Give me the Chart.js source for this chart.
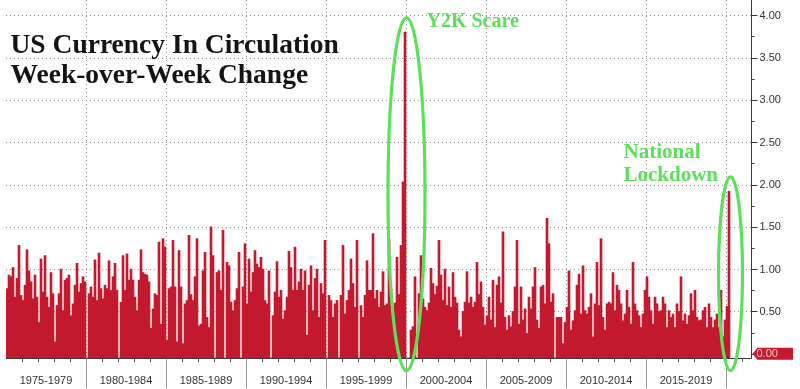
<!DOCTYPE html>
<html><head><meta charset="utf-8">
<script src="https://cdn.jsdelivr.net/npm/chart.js@4.4.1/dist/chart.umd.min.js"></script>
<style>html,body{margin:0;padding:0;background:#fff;}#wrap{width:800px;height:389px;position:relative;}</style>
</head><body><div id="wrap"><canvas id="c" width="800" height="389"></canvas></div>
<script>
// ---- text ----
const titleLines = ['US Currency In Circulation', 'Week-over-Week Change'];
const periodLabels = ['1975-1979','1980-1984','1985-1989','1990-1994','1995-1999','2000-2004','2005-2009','2010-2014','2015-2019'];
const yTickValues = [0.5,1.0,1.5,2.0,2.5,3.0,3.5,4.0];
const lastValueTag = 0.00;
const noteY2K = ['Y2K Scare'];
const noteLockdown = ['National', 'Lockdown'];

const v1975 = [0.77,0.93,0.91,1.02,0.67,0.89,1.28,0.69,0.63,0.81,1.23,0.98,0.85,0.65,0.93,0.67,0.37,1.12,0.73,1.16,0.67,0.55,0.96,0.71,0.14,0.57,0.71,1.00,0.51,0.87,0.89,0.93,0.45,0.59,0.81,1.07,0.73,0.83,0.91,0.85];
const v1980 = [-0.10,0.71,0.79,0.67,1.11,0.63,1.19,0.77,0.65,0.81,0.77,1.10,0.75,0.91,1.07,0.75,-0.10,0.61,1.16,0.75,1.18,0.87,1.00,0.87,0.67,0.51,0.87,1.23,0.96,0.94,0.93,0.85,0.30,0.53,0.71,0.69,1.32,0.35,1.36,1.26];
const v1985 = [0.16,0.77,0.79,1.34,0.79,0.14,1.22,0.79,0.12,0.59,0.63,1.40,0.70,0.63,0.91,1.36,0.33,0.35,0.98,1.20,0.43,0.31,1.50,1.16,-0.10,0.96,0.98,0.75,1.46,-0.10,1.08,1.04,0.61,0.51,0.63,0.77,1.20,-0.10,0.79,1.30];
const v1990 = [0.59,1.12,0.73,0.96,1.22,1.06,1.02,1.14,1.00,0.63,0.59,0.98,-0.10,0.45,0.73,1.09,0.67,0.75,0.41,0.51,0.67,1.21,1.02,0.75,1.26,0.75,0.85,1.00,0.75,0.98,0.22,0.81,1.04,0.51,0.89,1.00,0.43,0.83,0.71,1.34];
const v1995 = [-0.10,0.69,0.63,0.43,0.59,0.63,-0.10,0.69,1.28,0.47,0.63,0.75,1.12,0.83,0.55,1.34,-0.10,0.57,0.43,0.69,1.10,0.75,0.75,1.42,0.65,0.75,0.55,0.73,0.97,0.57,0.59,1.35,0.77,0.40,0.60,1.14,0.70,1.28,2.03,3.80];
const v2000 = [-0.10,-0.10,0.28,0.32,0.91,-0.10,0.71,1.16,0.65,0.55,0.51,0.60,1.01,0.83,0.70,0.80,1.34,0.93,0.63,1.00,0.57,0.79,0.55,0.96,0.67,0.60,0.28,0.20,0.50,0.61,0.97,0.60,0.67,0.55,0.61,1.08,0.70,0.85,0.55,0.34];
const v2005 = [0.45,0.67,0.40,0.87,0.31,0.81,0.91,0.60,1.44,0.43,0.28,0.45,0.32,0.50,0.79,1.34,0.35,0.79,0.40,0.53,0.24,0.67,0.53,0.79,1.02,0.40,0.30,0.79,0.81,0.59,1.60,1.30,0.61,0.71,-0.10,0.43,0.43,0.43,0.12,0.37];
const v2010 = [0.55,0.98,0.28,0.39,0.51,0.81,0.94,0.47,1.04,0.51,0.47,0.55,0.71,0.20,0.59,1.08,0.57,1.36,0.43,0.28,0.59,0.61,0.59,0.96,0.51,0.81,0.75,0.59,0.39,0.47,0.75,0.55,0.35,1.08,0.59,0.51,0.45,0.31,0.47,0.75];
const v2015 = [0.91,0.67,0.51,0.35,0.67,0.59,0.50,0.51,0.67,0.59,0.31,0.51,0.43,0.47,0.31,0.59,0.50,0.91,0.39,0.47,0.35,0.45,0.71,0.51,0.75,0.43,0.39,0.40,0.51,0.55,0.31,0.59,0.43,0.31,0.40,0.47,0.31,0.75,0.20,0.40];
const v2020 = [0.56,1.92];

const series = [].concat(v1975,v1980,v1985,v1990,v1995,v2000,v2005,v2010,v2015,v2020);
const PER_YEAR = 8, PER_PERIOD = 40;
const categories = [];
for (let y = 1975; y <= 2021; y++) for (let p = 0; p < PER_YEAR; p++) categories.push(y + '/' + (p + 1));
categories.length = 373;

const BAR = '#C31A30';
const GREEN = '#5CE05A';

function boundary(xs, i) {
  const w = xs.getPixelForValue(1) - xs.getPixelForValue(0);
  return xs.getPixelForValue(i) - w / 2;
}

const gridPlugin = {
  id: 'grid',
  beforeDatasetsDraw(chart) {
    const {ctx, chartArea: a, scales: {x: xs, y: ys}} = chart;
    ctx.save();
    ctx.strokeStyle = '#8f8f8f';
    ctx.lineWidth = 1;
    ctx.setLineDash([1, 3]);
    yTickValues.forEach(v => {
      const y = Math.round(ys.getPixelForValue(v)) + 0.5;
      ctx.beginPath(); ctx.moveTo(a.left, y); ctx.lineTo(a.right, y); ctx.stroke();
    });
    for (let k = 1; k <= periodLabels.length; k++) {
      const x = Math.round(boundary(xs, k * PER_PERIOD)) + 0.5;
      ctx.beginPath(); ctx.moveTo(x, a.top); ctx.lineTo(x, a.bottom); ctx.stroke();
    }
    ctx.restore();
  }
};

const decorPlugin = {
  id: 'decor',
  afterDraw(chart) {
    const {ctx, chartArea: a, scales: {x: xs, y: ys}} = chart;
    ctx.save();
    // axes lines
    ctx.strokeStyle = '#3a3a3a'; ctx.lineWidth = 1;
    const ab = Math.round(a.bottom) + 0.5, ar = Math.round(a.right) - 0.5;
    ctx.beginPath(); ctx.moveTo(a.left, ab); ctx.lineTo(ar, ab); ctx.stroke();
    ctx.beginPath(); ctx.moveTo(ar, a.top); ctx.lineTo(ar, ab); ctx.stroke();
    // y ticks (major + minor)
    const allTicks = [0].concat(yTickValues);
    allTicks.forEach((v, i) => {
      const y = Math.round(ys.getPixelForValue(v)) + 0.5;
      ctx.beginPath(); ctx.moveTo(ar, y); ctx.lineTo(ar + 6, y); ctx.stroke();
      if (i > 0) {
        const ym = Math.round(ys.getPixelForValue((v + allTicks[i - 1]) / 2)) + 0.5;
        ctx.beginPath(); ctx.moveTo(ar, ym); ctx.lineTo(ar + 3, ym); ctx.stroke();
      }
    });
    ctx.fillStyle = '#333';
    ctx.font = '11px "Liberation Sans", Arial, sans-serif';
    ctx.textBaseline = 'middle'; ctx.textAlign = 'left';
    yTickValues.forEach(v => ctx.fillText(v.toFixed(2), ar + 8, ys.getPixelForValue(v) + 0.5));
    // last value tag
    const ty = ys.getPixelForValue(lastValueTag);
    ctx.fillStyle = BAR;
    ctx.beginPath();
    ctx.moveTo(ar + 1, ty); ctx.lineTo(ar + 6, ty - 6); ctx.lineTo(793, ty - 6);
    ctx.lineTo(793, ty + 6); ctx.lineTo(ar + 6, ty + 6); ctx.closePath(); ctx.fill();
    ctx.fillStyle = '#f6c6cc';
    ctx.fillText(lastValueTag.toFixed(2), ar + 5, ty + 0.5);
    // x ticks, separators, labels
    ctx.strokeStyle = '#555';
    for (let i = PER_YEAR; i < categories.length; i += PER_YEAR) {
      if (i % PER_PERIOD === 0) continue;
      const x = Math.round(boundary(xs, i)) + 0.5;
      ctx.beginPath(); ctx.moveTo(x, ab); ctx.lineTo(x, ab + 3.5); ctx.stroke();
    }
    ctx.strokeStyle = '#9a9a9a';
    for (let k = 1; k <= periodLabels.length; k++) {
      const x = Math.round(boundary(xs, k * PER_PERIOD)) + 0.5;
      ctx.beginPath(); ctx.moveTo(x, ab); ctx.lineTo(x, 388); ctx.stroke();
    }
    ctx.fillStyle = '#333';
    ctx.textAlign = 'center'; ctx.textBaseline = 'alphabetic';
    periodLabels.forEach((lab, k) => {
      const x0 = boundary(xs, k * PER_PERIOD), x1 = boundary(xs, (k + 1) * PER_PERIOD);
      ctx.fillText(lab, (x0 + x1) / 2, 384);
    });
    // title
    ctx.fillStyle = '#141414';
    ctx.textAlign = 'left';
    ctx.font = 'bold 27.5px "Liberation Serif", "Times New Roman", serif';
    ctx.fillText(titleLines[0], 10.5, 53);
    ctx.fillText(titleLines[1], 10.5, 83);
    // annotations
    let y2kIdx = 0;
    series.forEach((v, i) => { if (v > series[y2kIdx]) y2kIdx = i; });
    const lockIdx = series.length - 1;
    const ell = (idx, rx) => {
      const cx = xs.getPixelForValue(idx) + 1.5;
      const top = ys.getPixelForValue(series[idx] + 0.17);
      const bot = ys.getPixelForValue(-0.2);
      ctx.beginPath();
      ctx.ellipse(cx, (top + bot) / 2, rx, (bot - top) / 2, 0, 0, Math.PI * 2);
      ctx.stroke();
      return {cx, top};
    };
    ctx.strokeStyle = GREEN; ctx.lineWidth = 3.2;
    const e1 = ell(y2kIdx, 18.5);
    const e2 = ell(lockIdx, 12);
    ctx.fillStyle = GREEN;
    ctx.font = 'bold 20px "Liberation Serif", "Times New Roman", serif';
    ctx.fillText(noteY2K[0], e1.cx + 20, e1.top + 9);
    ctx.font = 'bold 21px "Liberation Serif", "Times New Roman", serif';
    ctx.fillText(noteLockdown[0], e2.cx - 107, e2.top - 18.5);
    ctx.fillText(noteLockdown[1], e2.cx - 107, e2.top + 4.5);
    ctx.restore();
  }
};

new Chart(document.getElementById('c'), {
  type: 'bar',
  data: {
    labels: categories,
    datasets: [{
      data: series,
      backgroundColor: BAR,
      borderWidth: 0,
      barPercentage: 1,
      categoryPercentage: 1,
      base: -0.05,
      clip: 0
    }]
  },
  options: {
    responsive: false,
    animation: false,
    devicePixelRatio: 1,
    layout: {padding: {left: 6, right: 48, top: 0, bottom: 31}},
    scales: {
      x: {display: false, offset: true},
      y: {display: false, min: -0.05, max: 4.18}
    },
    plugins: {legend: {display: false}, tooltip: {enabled: false}, title: {display: false}}
  },
  plugins: [gridPlugin, decorPlugin]
});
</script>
</body></html>
